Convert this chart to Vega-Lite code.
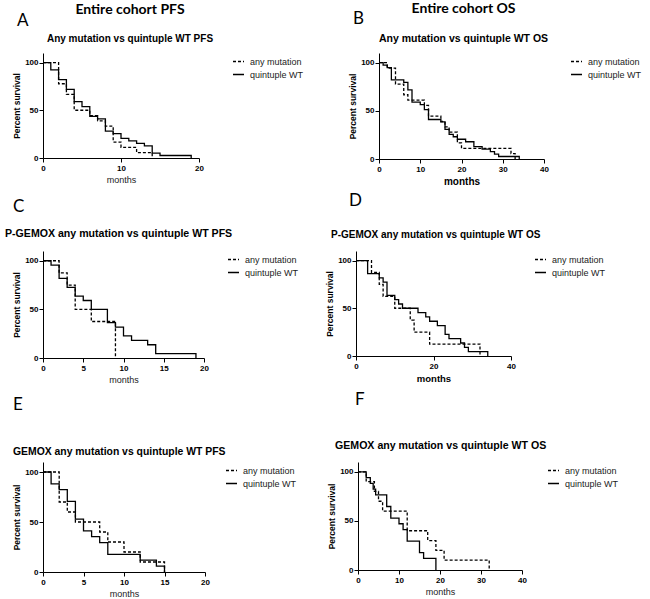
{
  "$schema": "https://vega.github.io/schema/vega-lite/v6.json",
  "background": "white",
  "padding": {"left": 5, "top": 1, "right": 0, "bottom": 0},
  "spacing": 6,
  "config": {
    "view": {"stroke": null},
    "axis": {"domainColor": "black", "domainWidth": 1, "tickColor": "black", "tickSize": 4, "labelColor": "black", "labelFont": "Liberation Sans", "labelFontSize": 8, "labelFontWeight": "bold", "labelPadding": 1, "titleFont": "Liberation Sans", "titleFontSize": 8.5, "titleFontWeight": "bold", "titleColor": "black", "titlePadding": 3, "grid": false, "labelFlush": false},
    "axisX": {"labelPadding": 2},
    "legend": {"orient": "right", "padding": 2, "labelFont": "Liberation Sans", "labelFontSize": 9, "labelColor": "#222", "symbolType": "stroke", "symbolSize": 121, "symbolStrokeWidth": 1.5, "symbolStrokeColor": "black", "rowPadding": 1, "labelOffset": 5},
    "title": {"color": "black", "subtitleColor": "black"}
  },
  "datasets": {
    "km": [
      {"panel":"A","group":"any mutation","months":0,"survival":100},{"panel":"A","group":"any mutation","months":2,"survival":77.8},{"panel":"A","group":"any mutation","months":3,"survival":66.7},{"panel":"A","group":"any mutation","months":4,"survival":50},{"panel":"A","group":"any mutation","months":6,"survival":44.4},{"panel":"A","group":"any mutation","months":7,"survival":38.9},{"panel":"A","group":"any mutation","months":8,"survival":33.3},{"panel":"A","group":"any mutation","months":9,"survival":16.7},{"panel":"A","group":"any mutation","months":10,"survival":11.1},{"panel":"A","group":"any mutation","months":12,"survival":5.6},{"panel":"A","group":"any mutation","months":14,"survival":0},
      {"panel":"A","group":"quintuple WT","months":0,"survival":100},{"panel":"A","group":"quintuple WT","months":1,"survival":92.3},{"panel":"A","group":"quintuple WT","months":2,"survival":82.1},{"panel":"A","group":"quintuple WT","months":3,"survival":71.8},{"panel":"A","group":"quintuple WT","months":4,"survival":59},{"panel":"A","group":"quintuple WT","months":5,"survival":53.8},{"panel":"A","group":"quintuple WT","months":6,"survival":43.6},{"panel":"A","group":"quintuple WT","months":7,"survival":41},{"panel":"A","group":"quintuple WT","months":8,"survival":28.2},{"panel":"A","group":"quintuple WT","months":9,"survival":25.6},{"panel":"A","group":"quintuple WT","months":10,"survival":20.5},{"panel":"A","group":"quintuple WT","months":11,"survival":17.9},{"panel":"A","group":"quintuple WT","months":12,"survival":15.4},{"panel":"A","group":"quintuple WT","months":13,"survival":12.8},{"panel":"A","group":"quintuple WT","months":14,"survival":5.1},{"panel":"A","group":"quintuple WT","months":15,"survival":2.6},{"panel":"A","group":"quintuple WT","months":19,"survival":0},
      {"panel":"B","group":"any mutation","months":0,"survival":100},{"panel":"B","group":"any mutation","months":2,"survival":94.4},{"panel":"B","group":"any mutation","months":4,"survival":77.8},{"panel":"B","group":"any mutation","months":6,"survival":66.7},{"panel":"B","group":"any mutation","months":7,"survival":61.1},{"panel":"B","group":"any mutation","months":11,"survival":55.6},{"panel":"B","group":"any mutation","months":12,"survival":44.4},{"panel":"B","group":"any mutation","months":15,"survival":38.9},{"panel":"B","group":"any mutation","months":16,"survival":33.3},{"panel":"B","group":"any mutation","months":17,"survival":27.8},{"panel":"B","group":"any mutation","months":19,"survival":16.7},{"panel":"B","group":"any mutation","months":20,"survival":11.1},{"panel":"B","group":"any mutation","months":32,"survival":5.6},{"panel":"B","group":"any mutation","months":33,"survival":0},
      {"panel":"B","group":"quintuple WT","months":0,"survival":100},{"panel":"B","group":"quintuple WT","months":1,"survival":97.4},{"panel":"B","group":"quintuple WT","months":2,"survival":94.9},{"panel":"B","group":"quintuple WT","months":3,"survival":82.1},{"panel":"B","group":"quintuple WT","months":6,"survival":79.5},{"panel":"B","group":"quintuple WT","months":7,"survival":71.8},{"panel":"B","group":"quintuple WT","months":8,"survival":59},{"panel":"B","group":"quintuple WT","months":10,"survival":56.4},{"panel":"B","group":"quintuple WT","months":11,"survival":51.3},{"panel":"B","group":"quintuple WT","months":12,"survival":41},{"panel":"B","group":"quintuple WT","months":15,"survival":38.5},{"panel":"B","group":"quintuple WT","months":16,"survival":30.8},{"panel":"B","group":"quintuple WT","months":17,"survival":25.6},{"panel":"B","group":"quintuple WT","months":18,"survival":23.1},{"panel":"B","group":"quintuple WT","months":19,"survival":20.5},{"panel":"B","group":"quintuple WT","months":21,"survival":17.9},{"panel":"B","group":"quintuple WT","months":23,"survival":12.8},{"panel":"B","group":"quintuple WT","months":25,"survival":10.3},{"panel":"B","group":"quintuple WT","months":27,"survival":7.7},{"panel":"B","group":"quintuple WT","months":28,"survival":5.1},{"panel":"B","group":"quintuple WT","months":29,"survival":2.6},{"panel":"B","group":"quintuple WT","months":34,"survival":0},
      {"panel":"C","group":"any mutation","months":0,"survival":100},{"panel":"C","group":"any mutation","months":2,"survival":87.5},{"panel":"C","group":"any mutation","months":3,"survival":75},{"panel":"C","group":"any mutation","months":4,"survival":50},{"panel":"C","group":"any mutation","months":6,"survival":37.5},{"panel":"C","group":"any mutation","months":9,"survival":0},
      {"panel":"C","group":"quintuple WT","months":0,"survival":100},{"panel":"C","group":"quintuple WT","months":1,"survival":95.5},{"panel":"C","group":"quintuple WT","months":2,"survival":81.8},{"panel":"C","group":"quintuple WT","months":3,"survival":72.7},{"panel":"C","group":"quintuple WT","months":4,"survival":63.6},{"panel":"C","group":"quintuple WT","months":5,"survival":59.1},{"panel":"C","group":"quintuple WT","months":6,"survival":50},{"panel":"C","group":"quintuple WT","months":8,"survival":36.4},{"panel":"C","group":"quintuple WT","months":9,"survival":31.8},{"panel":"C","group":"quintuple WT","months":10,"survival":22.7},{"panel":"C","group":"quintuple WT","months":11,"survival":18.2},{"panel":"C","group":"quintuple WT","months":13,"survival":13.6},{"panel":"C","group":"quintuple WT","months":14,"survival":4.5},{"panel":"C","group":"quintuple WT","months":19,"survival":0},
      {"panel":"D","group":"any mutation","months":0,"survival":100},{"panel":"D","group":"any mutation","months":4,"survival":87.5},{"panel":"D","group":"any mutation","months":6,"survival":75},{"panel":"D","group":"any mutation","months":7,"survival":62.5},{"panel":"D","group":"any mutation","months":10,"survival":50},{"panel":"D","group":"any mutation","months":14,"survival":37.5},{"panel":"D","group":"any mutation","months":15,"survival":25},{"panel":"D","group":"any mutation","months":19,"survival":12.5},{"panel":"D","group":"any mutation","months":32,"survival":0},
      {"panel":"D","group":"quintuple WT","months":0,"survival":100},{"panel":"D","group":"quintuple WT","months":3,"survival":86.4},{"panel":"D","group":"quintuple WT","months":6,"survival":81.8},{"panel":"D","group":"quintuple WT","months":7,"survival":77.3},{"panel":"D","group":"quintuple WT","months":8,"survival":63.6},{"panel":"D","group":"quintuple WT","months":10,"survival":59.1},{"panel":"D","group":"quintuple WT","months":11,"survival":54.5},{"panel":"D","group":"quintuple WT","months":12,"survival":50},{"panel":"D","group":"quintuple WT","months":16,"survival":45.5},{"panel":"D","group":"quintuple WT","months":18,"survival":40.9},{"panel":"D","group":"quintuple WT","months":19,"survival":36.4},{"panel":"D","group":"quintuple WT","months":21,"survival":31.8},{"panel":"D","group":"quintuple WT","months":23,"survival":22.7},{"panel":"D","group":"quintuple WT","months":24,"survival":18.2},{"panel":"D","group":"quintuple WT","months":27,"survival":13.6},{"panel":"D","group":"quintuple WT","months":28,"survival":9.1},{"panel":"D","group":"quintuple WT","months":29,"survival":4.5},{"panel":"D","group":"quintuple WT","months":34,"survival":0},
      {"panel":"E","group":"any mutation","months":0,"survival":100},{"panel":"E","group":"any mutation","months":2,"survival":70},{"panel":"E","group":"any mutation","months":3,"survival":60},{"panel":"E","group":"any mutation","months":4,"survival":50},{"panel":"E","group":"any mutation","months":7,"survival":40},{"panel":"E","group":"any mutation","months":8,"survival":30},{"panel":"E","group":"any mutation","months":10,"survival":20},{"panel":"E","group":"any mutation","months":12,"survival":10},{"panel":"E","group":"any mutation","months":15,"survival":0},
      {"panel":"E","group":"quintuple WT","months":0,"survival":100},{"panel":"E","group":"quintuple WT","months":1,"survival":88.2},{"panel":"E","group":"quintuple WT","months":2,"survival":82.4},{"panel":"E","group":"quintuple WT","months":3,"survival":70.6},{"panel":"E","group":"quintuple WT","months":4,"survival":52.9},{"panel":"E","group":"quintuple WT","months":5,"survival":41.2},{"panel":"E","group":"quintuple WT","months":6,"survival":35.3},{"panel":"E","group":"quintuple WT","months":7,"survival":29.4},{"panel":"E","group":"quintuple WT","months":8,"survival":17.6},{"panel":"E","group":"quintuple WT","months":12,"survival":11.8},{"panel":"E","group":"quintuple WT","months":14,"survival":5.9},{"panel":"E","group":"quintuple WT","months":15,"survival":0},
      {"panel":"F","group":"any mutation","months":0,"survival":100},{"panel":"F","group":"any mutation","months":2,"survival":90},{"panel":"F","group":"any mutation","months":4,"survival":80},{"panel":"F","group":"any mutation","months":5,"survival":70},{"panel":"F","group":"any mutation","months":6,"survival":60},{"panel":"F","group":"any mutation","months":12,"survival":40},{"panel":"F","group":"any mutation","months":17,"survival":30},{"panel":"F","group":"any mutation","months":19,"survival":20},{"panel":"F","group":"any mutation","months":21,"survival":10},{"panel":"F","group":"any mutation","months":32,"survival":0},
      {"panel":"F","group":"quintuple WT","months":0,"survival":100},{"panel":"F","group":"quintuple WT","months":2,"survival":94.1},{"panel":"F","group":"quintuple WT","months":3,"survival":88.2},{"panel":"F","group":"quintuple WT","months":3.7,"survival":82.4},{"panel":"F","group":"quintuple WT","months":4.3,"survival":76.5},{"panel":"F","group":"quintuple WT","months":7,"survival":64.7},{"panel":"F","group":"quintuple WT","months":8,"survival":52.9},{"panel":"F","group":"quintuple WT","months":10,"survival":47.1},{"panel":"F","group":"quintuple WT","months":11,"survival":41.2},{"panel":"F","group":"quintuple WT","months":12,"survival":29.4},{"panel":"F","group":"quintuple WT","months":15,"survival":17.6},{"panel":"F","group":"quintuple WT","months":16,"survival":11.8},{"panel":"F","group":"quintuple WT","months":19,"survival":0}
    ]
  },
  "resolve": {"scale": {"strokeDash": "independent"}, "legend": {"strokeDash": "independent"}},
  "vconcat": [
    {
      "spacing": 42,
      "resolve": {"scale": {"strokeDash": "independent"}, "legend": {"strokeDash": "independent"}},
      "hconcat": [
        {
          "width": 156, "height": 105,
          "title": {"text": "Entire cohort PFS", "subtitle": "Any mutation vs quintuple WT PFS", "anchor": "middle", "frame": "group", "font": "Lato", "fontSize": 14, "fontWeight": "bold", "subtitleFont": "Liberation Sans", "subtitleFontSize": 10, "subtitleFontWeight": "bold", "subtitlePadding": 17, "offset": -31.5, "dx": 9},
          "layer": [
            {
              "data": {"name": "km"},
              "transform": [{"filter": "datum.panel === 'A'"}],
              "mark": {"type": "line", "interpolate": "step-after", "color": "black", "strokeWidth": 1.3},
              "encoding": {
                "x": {"field": "months", "type": "quantitative", "scale": {"domain": [0, 20], "nice": false}, "axis": {"title": "months", "values": [0, 5, 10, 15, 20], "titleFontWeight": "normal", "titleFontSize": 9, "titleColor": "#222"}},
                "y": {"field": "survival", "type": "quantitative", "scale": {"domain": [0, 110], "nice": false}, "axis": {"title": "Percent survival", "values": [0, 50, 100]}},
                "strokeDash": {"field": "group", "type": "nominal", "scale": {"domain": ["any mutation", "quintuple WT"], "range": [[3, 2], [1, 0]]}, "legend": {"title": null, "offset": 31}}
              }
            },
            {
              "data": {"values": [{}]},
              "mark": {"type": "text", "align": "left", "baseline": "top", "font": "Lato", "fontSize": 17, "color": "black"},
              "encoding": {"x": {"datum": -3.33}, "y": {"datum": 151.6}, "text": {"value": "A"}}
            }
          ]
        },
        {
          "width": 165, "height": 106,
          "title": {"text": "Entire cohort OS", "subtitle": "Any mutation vs quintuple WT OS", "anchor": "middle", "frame": "group", "font": "Lato", "fontSize": 14, "fontWeight": "bold", "subtitleFont": "Liberation Sans", "subtitleFontSize": 10.5, "subtitleFontWeight": "bold", "subtitlePadding": 18, "offset": -33.6, "dx": 2},
          "layer": [
            {
              "data": {"name": "km"},
              "transform": [{"filter": "datum.panel === 'B'"}],
              "mark": {"type": "line", "interpolate": "step-after", "color": "black", "strokeWidth": 1.3},
              "encoding": {
                "x": {"field": "months", "type": "quantitative", "scale": {"domain": [0, 40], "nice": false}, "axis": {"title": "months", "values": [0, 10, 20, 30, 40], "titleFontSize": 10}},
                "y": {"field": "survival", "type": "quantitative", "scale": {"domain": [0, 110], "nice": false}, "axis": {"title": "Percent survival", "values": [0, 50, 100]}},
                "strokeDash": {"field": "group", "type": "nominal", "scale": {"domain": ["any mutation", "quintuple WT"], "range": [[3, 2], [1, 0]]}, "legend": {"title": null, "offset": 24}}
              }
            },
            {
              "data": {"values": [{}]},
              "mark": {"type": "text", "align": "left", "baseline": "top", "font": "Lato", "fontSize": 17, "color": "black"},
              "encoding": {"x": {"datum": -6.3}, "y": {"datum": 153.1}, "text": {"value": "B"}}
            }
          ]
        }
      ]
    },
    {
      "spacing": 24,
      "resolve": {"scale": {"strokeDash": "independent"}, "legend": {"strokeDash": "independent"}},
      "hconcat": [
        {
          "width": 161, "height": 107,
          "title": {"text": "P-GEMOX any mutation vs quintuple WT PFS", "anchor": "start", "frame": "group", "font": "Liberation Sans", "fontSize": 10.6, "fontWeight": "bold", "offset": -42.3, "dx": -38},
          "layer": [
            {
              "data": {"name": "km"},
              "transform": [{"filter": "datum.panel === 'C'"}],
              "mark": {"type": "line", "interpolate": "step-after", "color": "black", "strokeWidth": 1.3},
              "encoding": {
                "x": {"field": "months", "type": "quantitative", "scale": {"domain": [0, 20], "nice": false}, "axis": {"title": "months", "values": [0, 5, 10, 15, 20], "titleFontWeight": "normal", "titleFontSize": 9, "titleColor": "#222"}},
                "y": {"field": "survival", "type": "quantitative", "scale": {"domain": [0, 110], "nice": false}, "axis": {"title": "Percent survival", "values": [0, 50, 100]}},
                "strokeDash": {"field": "group", "type": "nominal", "scale": {"domain": ["any mutation", "quintuple WT"], "range": [[3, 2], [1, 0]]}, "legend": {"title": null, "offset": 21}}
              }
            },
            {
              "data": {"values": [{}]},
              "mark": {"type": "text", "align": "left", "baseline": "top", "font": "Lato", "fontSize": 17, "color": "black"},
              "encoding": {"x": {"datum": -3.73}, "y": {"datum": 163.7}, "text": {"value": "C"}}
            }
          ]
        },
        {
          "width": 155, "height": 105,
          "title": {"text": "P-GEMOX any mutation vs quintuple WT OS", "anchor": "start", "frame": "group", "font": "Liberation Sans", "fontSize": 10, "fontWeight": "bold", "offset": -48.1, "dx": -25},
          "layer": [
            {
              "data": {"name": "km"},
              "transform": [{"filter": "datum.panel === 'D'"}],
              "mark": {"type": "line", "interpolate": "step-after", "color": "black", "strokeWidth": 1.3},
              "encoding": {
                "x": {"field": "months", "type": "quantitative", "scale": {"domain": [0, 40], "nice": false}, "axis": {"title": "months", "values": [0, 10, 20, 30, 40], "titleFontSize": 9.5}},
                "y": {"field": "survival", "type": "quantitative", "scale": {"domain": [0, 110], "nice": false}, "axis": {"title": "Percent survival", "values": [0, 50, 100]}},
                "strokeDash": {"field": "group", "type": "nominal", "scale": {"domain": ["any mutation", "quintuple WT"], "range": [[3, 2], [1, 0]]}, "legend": {"title": null, "offset": 21}}
              }
            },
            {
              "data": {"values": [{}]},
              "mark": {"type": "text", "align": "left", "baseline": "top", "font": "Lato", "fontSize": 17, "color": "black"},
              "encoding": {"x": {"datum": -1.8}, "y": {"datum": 170.5}, "text": {"value": "D"}}
            }
          ]
        }
      ]
    },
    {
      "spacing": 28,
      "resolve": {"scale": {"strokeDash": "independent"}, "legend": {"strokeDash": "independent"}},
      "hconcat": [
        {
          "width": 162, "height": 110,
          "title": {"text": "GEMOX any mutation vs quintuple WT PFS", "anchor": "start", "frame": "group", "font": "Liberation Sans", "fontSize": 10.4, "fontWeight": "bold", "offset": -62, "dx": -30},
          "layer": [
            {
              "data": {"name": "km"},
              "transform": [{"filter": "datum.panel === 'E'"}],
              "mark": {"type": "line", "interpolate": "step-after", "color": "black", "strokeWidth": 1.3},
              "encoding": {
                "x": {"field": "months", "type": "quantitative", "scale": {"domain": [0, 20], "nice": false}, "axis": {"title": "months", "values": [0, 5, 10, 15, 20], "titleFontWeight": "normal", "titleFontSize": 9, "titleColor": "#222"}},
                "y": {"field": "survival", "type": "quantitative", "scale": {"domain": [0, 110], "nice": false}, "axis": {"title": "Percent survival", "values": [0, 50, 100]}},
                "strokeDash": {"field": "group", "type": "nominal", "scale": {"domain": ["any mutation", "quintuple WT"], "range": [[3, 2], [1, 0]]}, "legend": {"title": null, "offset": 18}}
              }
            },
            {
              "data": {"values": [{}]},
              "mark": {"type": "text", "align": "left", "baseline": "top", "font": "Lato", "fontSize": 17, "color": "black"},
              "encoding": {"x": {"datum": -3.7}, "y": {"datum": 175.2}, "text": {"value": "E"}}
            }
          ]
        },
        {
          "width": 164, "height": 108,
          "title": {"text": "GEMOX any mutation vs quintuple WT OS", "anchor": "start", "frame": "group", "font": "Liberation Sans", "fontSize": 10.6, "fontWeight": "bold", "offset": -60.7, "dx": -23},
          "layer": [
            {
              "data": {"name": "km"},
              "transform": [{"filter": "datum.panel === 'F'"}],
              "mark": {"type": "line", "interpolate": "step-after", "color": "black", "strokeWidth": 1.3},
              "encoding": {
                "x": {"field": "months", "type": "quantitative", "scale": {"domain": [0, 40], "nice": false}, "axis": {"title": "months", "values": [0, 10, 20, 30, 40], "titleFontWeight": "normal", "titleFontSize": 9, "titleColor": "#222"}},
                "y": {"field": "survival", "type": "quantitative", "scale": {"domain": [0, 110], "nice": false}, "axis": {"title": "Percent survival", "values": [0, 50, 100]}},
                "strokeDash": {"field": "group", "type": "nominal", "scale": {"domain": ["any mutation", "quintuple WT"], "range": [[3, 2], [1, 0]]}, "legend": {"title": null, "offset": 23}}
              }
            },
            {
              "data": {"values": [{}]},
              "mark": {"type": "text", "align": "left", "baseline": "top", "font": "Lato", "fontSize": 17, "color": "black"},
              "encoding": {"x": {"datum": -0.73}, "y": {"datum": 181.5}, "text": {"value": "F"}}
            }
          ]
        }
      ]
    }
  ]
}
